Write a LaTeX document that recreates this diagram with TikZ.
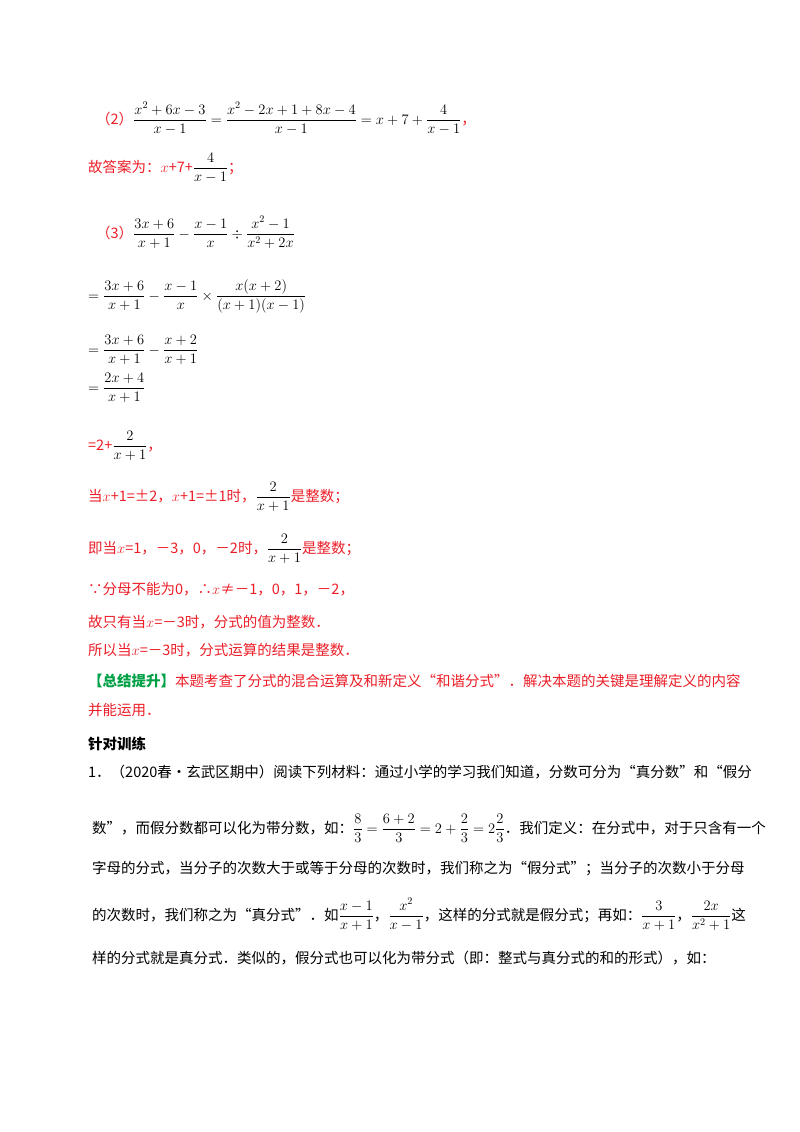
\RequirePackage{fix-cm}
\documentclass[tikz,border=0pt]{standalone}
\usepackage{amsmath,amssymb}
\usepackage{fontspec}
\setmainfont{Noto Sans CJK SC}
\definecolor{myred}{RGB}{235,30,40}
\definecolor{mygreen}{RGB}{0,160,70}
\begin{document}
\begin{tikzpicture}[x=1pt,y=-1pt,
  ln/.style={anchor=base west,inner sep=0pt,font=\fontsize{14.5}{17}\selectfont},
  rd/.style={ln,text=myred}]
\useasboundingbox (0,0) rectangle (800,1132);
\node[ln] (l1) at (96,124) {\textcolor{myred}{（2）}$\dfrac{x^2+6x-3}{x-1}=\dfrac{x^2-2x+1+8x-4}{x-1}=x+7+\dfrac{4}{x-1}$\textcolor{myred}{，}};
\node[rd] (l2) at (88,172) {故答案为：$x$+7+\textcolor{black}{$\dfrac{4}{x-1}$}；};
\node[ln] (l3) at (96,238) {\textcolor{myred}{（3）}$\dfrac{3x+6}{x+1}-\dfrac{x-1}{x}\div\dfrac{x^2-1}{x^2+2x}$};
\node[ln] (l4) at (88,300) {$=\dfrac{3x+6}{x+1}-\dfrac{x-1}{x}\times\dfrac{x(x+2)}{(x+1)(x-1)}$};
\node[ln] (l5) at (88,354) {$=\dfrac{3x+6}{x+1}-\dfrac{x+2}{x+1}$};
\node[ln] (l6) at (88,392) {$=\dfrac{2x+4}{x+1}$};
\node[rd] (l7) at (88,450) {=2+\textcolor{black}{$\dfrac{2}{x+1}$}，};
\node[rd] (l8) at (88,501) {当$x$+1=±2，$x$+1=±1时，\textcolor{black}{$\dfrac{2}{x+1}$}是整数；};
\node[rd] (l9) at (88,553) {即当$x$=1，－3，0，－2时，\textcolor{black}{$\dfrac{2}{x+1}$}是整数；};
\node[rd] (l10) at (88,594) {∵分母不能为0，∴$x$≠－1，0，1，－2，};
\node[rd] (l11) at (88,627) {故只有当$x$=－3时，分式的值为整数．};
\node[rd] (l12) at (88,655) {所以当$x$=－3时，分式运算的结果是整数．};
\node[rd] (l13) at (88,686) {\textcolor{mygreen}{\bfseries 【总结提升】}本题考查了分式的混合运算及和新定义“和谐分式”．解决本题的关键是理解定义的内容};
\node[rd] (l14) at (88,715) {并能运用．};
\node[ln,font=\fontsize{14.5}{17}\selectfont\bfseries] (l15) at (88,749) {针对训练};
\node[ln] (l16) at (88,777) {1．（2020春•玄武区期中）阅读下列材料：通过小学的学习我们知道，分数可分为“真分数”和“假分};
\node[ln] (l17) at (92,833) {数”，而假分数都可以化为带分数，如：$\dfrac{8}{3}=\dfrac{6+2}{3}=2+\dfrac{2}{3}=2\dfrac{2}{3}$．我们定义：在分式中，对于只含有一个};
\node[ln] (l18) at (92,873) {字母的分式，当分子的次数大于或等于分母的次数时，我们称之为“假分式”；当分子的次数小于分母};
\node[ln] (l19) at (92,920) {的次数时，我们称之为“真分式”．如$\dfrac{x-1}{x+1}$，$\dfrac{x^2}{x-1}$，这样的分式就是假分式；再如：$\dfrac{3}{x+1}$，$\dfrac{2x}{x^2+1}$这};
\node[ln] (l20) at (92,963) {样的分式就是真分式．类似的，假分式也可以化为带分式（即：整式与真分式的和的形式），如：};
\end{tikzpicture}
\end{document}
